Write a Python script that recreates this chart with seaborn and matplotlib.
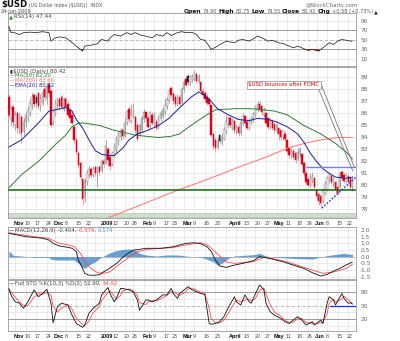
import numpy as np
import pandas as pd
import matplotlib
matplotlib.use("Agg")
import matplotlib.pyplot as plt
import matplotlib.transforms as mtransforms
import seaborn as sns

# ---------------- data ----------------
start_date, end_date = "2008-10-29", "2009-06-24"
holiday_dates = ["2008-11-27", "2008-12-25", "2009-01-01", "2009-01-19",
                 "2009-02-16", "2009-04-10", "2009-05-25"]

open_ = [87.4,85.5,86.5,85.0,86.0,84.9,85.7,84.5,85.3,85.6,86.0,86.7,87.5,87.4,87.7,86.6,86.9,88.0,87.3,88.4,
         87.9,85.3,86.0,86.7,87.2,87.4,86.4,87.2,86.8,86.3,85.9,84.9,83.8,82.7,81.9,80.5,79.0,80.3,80.9,81.4,
         80.9,81.5,81.0,81.5,81.3,82.0,81.9,83.0,82.4,81.8,82.6,83.0,83.6,84.0,84.6,84.1,85.2,86.4,85.4,85.8,
         85.7,85.0,84.3,84.6,85.5,86.1,85.6,85.0,85.9,85.1,85.3,84.9,85.6,85.8,86.1,86.6,87.1,88.1,87.6,87.4,
         86.8,87.4,86.9,88.0,88.9,89.1,88.6,88.8,88.9,89.3,88.7,88.6,87.9,87.7,87.4,87.2,86.7,84.3,83.8,83.2,
         84.2,83.6,83.9,84.5,85.1,85.6,84.8,85.4,84.5,84.9,84.4,85.2,85.8,85.3,84.8,85.3,85.5,85.9,86.3,86.8,
         86.6,85.9,86.0,85.6,84.9,85.4,85.1,84.5,84.8,84.6,84.0,84.3,83.8,83.1,82.5,82.9,82.7,82.2,82.6,82.6,
         81.9,81.0,80.5,80.0,80.4,80.6,79.6,79.3,79.1,78.7,79.4,79.6,80.4,80.8,80.1,80.3,79.9,79.9,81.1,80.9,
         80.4,80.8,80.6,79.90]
high = [87.6,86.7,86.7,86.2,86.2,86.0,85.9,85.6,86.1,86.6,87.2,87.8,87.7,87.6,87.8,87.6,88.1,88.3,88.5,88.6,
        88.0,86.4,87.2,87.4,87.4,87.5,87.4,87.4,87.0,86.5,86.1,85.0,84.0,82.9,82.0,80.6,80.6,81.3,81.6,81.5,
        81.6,81.6,81.6,81.7,82.2,82.3,83.8,83.2,82.6,82.9,83.5,84.1,84.5,84.8,84.8,85.6,86.3,86.6,86.8,86.9,
        85.9,85.1,85.2,85.8,86.4,86.2,85.8,86.2,86.1,86.1,85.5,85.9,86.2,86.5,87.3,87.4,88.0,88.3,87.8,87.5,
        87.6,87.6,88.2,88.8,89.1,89.3,89.2,89.3,89.6,89.4,89.3,88.7,88.1,87.9,87.6,87.4,86.8,84.4,84.0,84.0,
        84.3,84.3,84.9,85.9,85.8,85.8,85.6,85.5,85.1,85.0,85.5,86.0,85.9,85.5,85.6,85.8,86.2,86.7,87.0,87.0,
        86.7,86.5,86.1,85.7,85.6,85.5,85.2,85.2,84.9,84.7,84.6,84.5,83.9,83.2,83.1,83.0,82.8,83.1,83.2,82.7,
        82.0,81.1,80.6,81.0,81.1,80.7,79.7,79.4,79.2,79.8,80.4,80.8,81.1,80.9,80.7,80.4,80.0,81.2,81.3,81.0,
        81.0,80.9,80.7,80.75]
low = [85.7,85.0,84.9,84.6,84.4,84.3,83.5,84.2,84.9,85.3,85.8,86.4,86.5,86.5,86.4,86.2,86.7,87.1,86.8,87.4,
       84.9,85.0,85.8,86.4,86.3,86.4,86.2,86.3,85.7,85.3,85.0,83.5,82.6,81.5,80.5,78.4,78.6,80.0,80.6,80.7,
       80.7,80.8,79.9,80.9,81.1,81.5,81.8,81.6,81.3,81.6,82.4,82.8,83.4,83.8,83.9,84.0,85.0,85.3,85.2,85.6,
       84.4,83.7,84.1,84.4,85.3,85.4,84.7,84.8,85.0,84.9,84.6,84.7,85.4,85.6,85.9,86.4,86.9,87.3,86.8,86.5,
       86.6,86.6,86.8,87.8,88.2,88.4,88.4,88.6,88.7,88.5,88.5,87.7,87.3,87.0,86.7,86.6,84.0,83.0,82.8,83.0,
       83.5,83.4,83.8,84.3,84.9,84.8,84.6,84.4,84.3,84.1,84.2,85.0,85.0,84.6,84.6,85.1,85.3,85.7,86.1,86.2,
       85.9,85.7,85.0,84.7,84.7,84.6,84.4,84.3,83.8,83.8,83.8,83.7,82.7,82.3,82.3,82.2,81.9,82.0,82.4,81.6,
       80.8,80.1,79.9,79.9,80.2,79.7,78.9,78.4,78.2,78.5,79.2,79.5,80.2,80.1,79.9,79.4,79.2,79.8,80.4,80.2,
       80.2,80.1,79.6,79.55]
close = [85.9,86.4,85.3,85.9,84.8,85.8,84.4,85.4,85.9,86.3,86.9,87.4,86.8,86.9,86.6,87.3,87.8,87.4,88.2,87.7,
         85.0,86.2,86.9,87.1,86.6,86.5,87.2,86.5,85.9,85.6,85.2,83.8,82.8,81.7,80.7,78.9,80.4,81.0,81.4,80.9,
         81.4,81.0,81.4,81.1,82.0,81.8,83.3,82.1,81.6,82.7,83.3,83.9,84.2,84.6,84.1,85.2,86.1,85.5,85.9,86.2,
         84.6,83.9,85.0,85.6,86.1,85.6,84.9,86.0,85.2,85.9,84.8,85.7,86.0,86.3,86.7,87.1,87.9,87.5,87.0,86.8,
         87.3,86.8,88.0,88.6,88.4,88.6,89.0,89.1,89.3,88.7,89.1,87.9,87.5,87.2,86.9,86.8,84.2,83.3,83.1,83.7,
         83.7,84.0,84.7,85.4,85.6,85.0,85.4,84.6,84.9,84.4,85.3,85.8,85.2,84.8,85.4,85.6,86.0,86.5,86.8,86.4,
         86.1,86.3,85.2,84.9,85.4,84.8,84.6,85.0,84.3,84.0,84.5,83.9,82.9,82.5,82.9,82.4,82.1,82.8,83.0,81.8,
         81.0,80.3,80.0,80.7,80.8,79.9,79.1,78.7,78.5,79.6,80.1,80.6,80.9,80.3,80.5,79.6,79.4,81.0,80.6,80.4,
         80.8,80.3,79.84,80.42]

ma50_idx = [0,6,14,22,27,30,33,36,43,50,55,60,65,71,77,81,84,88,94,98,107,115,121,126,132,140,148,155,160,163]
ma50_val = [79.8,80.9,82.0,83.4,84.2,84.9,85.2,85.2,85.0,84.6,84.4,84.2,84.1,84.0,84.1,84.3,84.7,85.2,85.9,86.3,
            86.4,86.4,86.3,86.2,85.9,85.0,84.3,83.5,82.8,82.2]
ma200_idx = [47,60,70,80,91,100,110,118,124,132,140,148,156,163]
ma200_val = [77.3,78.2,78.9,79.6,80.3,80.9,81.6,82.1,82.5,83.1,83.5,83.8,84.0,84.0]
ema20_idx = [0,6,14,19,22,27,30,32,35,38,41,44,47,50,54,57,61,66,71,76,80,86,90,93,96,99,104,109,114,118,
             123,127,132,137,140,143,146,149,152,155,160,163]
ema20_val = [83.2,83.8,85.2,86.2,86.3,86.5,86.2,85.5,84.8,83.8,82.9,82.6,82.5,82.5,83.1,83.8,84.3,84.6,85.0,85.6,
             86.3,87.3,87.8,87.5,87.0,86.4,85.9,85.5,85.4,85.6,85.5,85.3,84.9,84.3,83.6,82.7,82.0,81.4,81.0,80.7,
             80.6,80.7]

support_level = 79.6
resistance_level = 81.5
resistance_from = 141
uptrend_x = [148.4, 164.7]
uptrend_y = [78.1, 80.7]
note_text = "$USD bounces after FOMC"
note_pos = (130.5, 88.38)
note_line1_x = [146.8, 163.2]
note_line1_y = [88.1, 81.2]
note_line2_x = [148.2, 164.0]
note_line2_y = [88.4, 81.5]
band_low, band_high = 77.40, 77.68

rsi_idx = [0,1,2,5,7,10,13,16,19,20,22,24,27,30,32,35,36,39,42,44,47,48,50,53,56,58,60,63,65,68,70,73,75,77,80,
           82,84,87,89,91,93,95,96,99,101,103,107,109,111,114,116,118,121,123,125,128,130,133,135,137,140,142,144,
           147,148,150,152,154,156,158,160,162,163]
rsi_val = [78,65,66,61,65,66,65,67,65,47,54,56,54,44,36.5,26,36.5,38.6,41.5,50.6,47,54,61,57.7,65,61,65,59,57.7,54,
           61,57.7,65,59,65,67,65,65.5,61,50.6,49,36.5,29.5,36.5,42,47,43.6,49,50.6,47,52,57.7,52,47,49,43.6,42,36.5,
           33,36.5,31,27.4,29.5,26,29.5,36.5,43.6,40,47,50.6,49,47,47.44]

macd_idx = [0,4,8,12,16,19,21,24,28,30,32,33,35,36,38,40,43,45,47,50,52,54,57,59,62,65,69,72,75,78,81,84,88,91,94,
            96,98,100,103,107,111,116,119,122,125,130,135,140,144,148,151,154,157,160,163]
macd_val = [1.75,1.63,1.5,1.45,1.38,1.25,1.0,0.8,0.7,0.63,0.38,-0.25,-0.88,-1.25,-1.38,-1.4,-1.35,-1.13,-0.95,-0.63,
            -0.38,-0.05,0.3,0.5,0.55,0.63,0.63,0.63,0.68,0.75,0.88,1.0,1.05,0.97,0.75,0.4,-0.25,-0.7,-0.8,-0.63,
            -0.5,-0.3,0.0,-0.08,-0.18,-0.38,-0.63,-0.88,-1.2,-1.45,-1.33,-1.08,-0.88,-0.62,-0.404]
sig_idx = [0,4,12,19,23,28,31,34,36,39,42,45,48,51,54,58,61,66,72,78,84,91,94,97,100,103,107,111,116,121,125,132,
           138,144,149,154,160,163]
sig_val = [1.8,1.7,1.5,1.38,1.05,0.88,0.75,0.25,-0.38,-0.88,-1.2,-1.25,-1.13,-0.75,-0.38,0.05,0.38,0.55,0.63,0.68,
           0.88,1.05,0.9,0.5,0.05,-0.38,-0.5,-0.45,-0.38,-0.05,-0.13,-0.38,-0.7,-1.0,-1.25,-1.15,-0.88,-0.579]
hist_idx = [0,1,2,6,12,19,20,23,28,31,33,35,36,38,41,43,46,48,51,54,57,60,62,65,70,75,80,84,91,93,97,99,101,104,
            107,111,116,119,122,127,132,138,144,147,150,154,159,161,163]
hist_val = [0.4,0.3,0.1,0.05,-0.05,-0.05,-0.2,-0.25,-0.25,-0.25,-0.5,-0.8,-0.88,-0.63,-0.38,-0.13,0.13,0.3,0.45,0.55,
            0.58,0.5,0.25,0.13,0.05,0.13,0.13,0.05,-0.05,-0.13,-0.38,-0.63,-0.5,-0.13,0.05,0.1,0.15,0.25,0.05,-0.05,
            -0.1,-0.15,-0.18,-0.05,0.05,0.15,0.25,0.2,0.174]

sto_idx = [0,1,3,5,7,9,12,14,16,18,20,21,23,25,28,30,32,35,36,38,40,43,44,47,48,50,51,53,54,57,59,61,62,65,66,68,
           70,73,75,77,78,80,81,84,85,87,89,91,93,95,96,98,100,102,104,107,108,110,112,114,115,117,119,121,122,124,
           126,129,131,133,135,137,139,141,144,145,148,149,151,152,154,155,158,159,161,162,163]
sto_k = [87,73,58,55,44,58,84,69,76,85,55,12.6,47,55,51,29,11,2.5,7.5,33,44,55,73,89,76,58,65.5,87,87,84,80,62,40,
         62,62,58,62,73,73,87,76,65.5,76,87,91,84,80,76,74,12,9,11,15,25.6,44,69,58,51,73,58,55,76,94.5,84,55,36.5,
         29,22,14.8,11,18.4,25.6,18.4,7.5,14.8,7.5,18.4,11,55,69,62,51,76,65.5,55,56,52.9]
sto_d = [85,80,68,58,50,50,68,76,74,79,72,48,36,44,52,42,22,8,6,16,34,48,60,78,82,70,64,72,82,86,82,72,56,52,58,
         60,60,67,72,80,80,74,72,80,86,88,83,79,76,45,22,12,12,18,32,55,62,58,62,64,60,65,84,88,75,52,36,27,18,13,
         14,21,22,13,11,10,13,14,32,55,64,58,64,70,63,58,54.92]
sto_line_level, sto_line_from = 49.6, 152.4

tick_dates = ["2008-11-03","2008-11-10","2008-11-17","2008-11-24","2008-12-01","2008-12-08","2008-12-15",
              "2008-12-22","2009-01-02","2009-01-12","2009-01-20","2009-01-26","2009-02-02","2009-02-09",
              "2009-02-17","2009-02-23","2009-03-02","2009-03-09","2009-03-16","2009-03-23","2009-04-01",
              "2009-04-13","2009-04-20","2009-04-27","2009-05-01","2009-05-11","2009-05-18","2009-05-26",
              "2009-06-01","2009-06-08","2009-06-15","2009-06-22"]
tick_labels = ["Nov","10","17","24","Dec","8","15","22","2009","12","20","26","Feb","9","17","23","Mar","9",
               "16","23","April","13","20","27","May","11","18","26","Jun","8","15","22"]

# ---------------- figure ----------------
sns.set_style("white")
plt.rcParams['font.family'] = ['DejaVu Sans']

dates = pd.bdate_range(start_date, end_date)
dates = dates[~dates.isin(pd.to_datetime(holiday_dates))]
n = len(dates)
pos = {d.strftime("%Y-%m-%d"): i for i, d in enumerate(dates)}
tick_idx = [pos[d] for d in tick_dates]
weeks = dates.to_period("W")
week_idx = [i for i in range(1, n) if weeks[i] != weeks[i - 1]]

W_PX, H_PX = 400, 341
fig = plt.figure(figsize=(W_PX / 100, H_PX / 100), dpi=100)
fig.patch.set_facecolor("white")
label_shift = mtransforms.ScaledTranslation(-1.2 / 100, 0, fig.dpi_scale_trans)


def place(top, bot, left=8, right=356):
    return fig.add_axes([left / W_PX, 1 - bot / H_PX, (right - left) / W_PX, (bot - top) / H_PX])


ax_rsi = place(13, 66)
ax_main = place(67, 218)
ax_macd = place(227, 279)
ax_sto = place(280, 331)

GRID = "#e3e3e3"
XL = (-0.4, 164.7)


def style(ax, ylim, yticks, ylabels, grid_lines, xlabels):
    ax.set_xlim(*XL)
    ax.set_ylim(*ylim)
    ax.set_xticks(tick_idx)
    ax.tick_params(axis="x", length=0, pad=5.0)
    if xlabels:
        ax.set_xticklabels(tick_labels)
        for lab in ax.get_xticklabels():
            txt = lab.get_text()
            lab.set_family(["Liberation Sans", "DejaVu Sans"])
            lab.set_horizontalalignment("left")
            lab.set_verticalalignment("baseline")
            lab.set_transform(lab.get_transform() + label_shift)
            if txt.isdigit() and len(txt) <= 2:
                lab.set_fontsize(3.8)
                lab.set_color("#444444")
            else:
                lab.set_fontsize(4.0)
                lab.set_fontweight("bold")
                lab.set_color("#111111")
    else:
        ax.set_xticklabels([])
    ax.set_yticks(yticks)
    ax.set_yticklabels(ylabels)
    ax.yaxis.tick_right()
    ax.tick_params(axis="y", labelsize=4.2, colors="#666666", length=0, pad=3)
    for w in week_idx:
        ax.axvline(w, color=GRID, lw=0.5, zorder=0)
    for g in grid_lines:
        ax.axhline(g, color=GRID, lw=0.5, zorder=0)
    for s in ax.spines.values():
        s.set_color("#9a9a9a")
        s.set_linewidth(0.6)
    ax.set_xlabel("")
    ax.set_ylabel("")


# ---- RSI ----
rsi_ticks = [10, 30, 50, 70, 90]
style(ax_rsi, (-5.5, 106.5), rsi_ticks, [str(t) for t in rsi_ticks], [10, 90], False)
ax_rsi.axhline(70, color="#8a8a8a", lw=0.6, zorder=1)
ax_rsi.axhline(30, color="#8a8a8a", lw=0.6, zorder=1)
ax_rsi.axhline(50, color="#9a9a9a", lw=0.5, ls=(0, (4, 1.5, 1, 1.5)), zorder=1)
rx, ry = np.array(rsi_idx, float), np.array(rsi_val, float)
ax_rsi.fill_between(rx, ry, 70, where=ry > 70, interpolate=True, color="#2e8b2e", lw=0, zorder=2)
ax_rsi.fill_between(rx, ry, 30, where=ry < 30, interpolate=True, color="#b02020", lw=0, zorder=2)
sns.lineplot(x=rx, y=ry, ax=ax_rsi, color="#222222", linewidth=0.55, zorder=3)
ax_rsi.set_xlabel(""); ax_rsi.set_ylabel("")

# ---- main price panel ----
main_ticks = list(range(78, 90))
style(ax_main, (77.29, 89.875), main_ticks, [str(t) for t in main_ticks], main_ticks, True)
ax_main.axhspan(band_low, band_high, facecolor="#cddfca", edgecolor="#9dbd98", lw=0.4, zorder=1)

xi = np.arange(n)
o, h, l, c = (np.array(a, float) for a in (open_, high, low, close))
prev_c = np.r_[o[0], c[:-1]]
down = c < prev_c
filled = c < o
wick_col = np.where(down, "#f2a0a0", "#a8a8a8")
ax_main.vlines(xi, l, h, colors=wick_col, lw=0.8, zorder=3)
face = []
edge = []
for d, f in zip(down, filled):
    if d and f:
        face.append("#e0001a"); edge.append("#e0001a")
    elif d:
        face.append("#ffffff"); edge.append("#e0001a")
    elif f:
        face.append("#222222"); edge.append("#222222")
    else:
        face.append("#f2f2f2"); edge.append("#8a8a8a")
ax_main.bar(xi, np.maximum(np.abs(c - o), 0.07), bottom=np.minimum(o, c), width=0.66,
            color=face, edgecolor=edge, linewidth=0.35, zorder=4)

sns.lineplot(x=ma200_idx, y=ma200_val, ax=ax_main, color="#ff8080", linewidth=0.8, zorder=5)
sns.lineplot(x=ma50_idx, y=ma50_val, ax=ax_main, color="#2f7d2f", linewidth=0.7, zorder=5)
sns.lineplot(x=ema20_idx, y=ema20_val, ax=ax_main, color="#1c1c9c", linewidth=0.7, zorder=6)
ax_main.axhline(support_level, color="#0a6a0a", lw=1.1, zorder=6)
ax_main.plot([resistance_from, XL[1]], [resistance_level, resistance_level], color="#7080ff", lw=1.0, zorder=6)
ax_main.plot(uptrend_x, uptrend_y, color="#2233ee", lw=0.9, ls=(0, (1.5, 1.2)), zorder=6)
ax_main.plot(note_line1_x, note_line1_y, color="#777777", lw=0.6, zorder=7)
ax_main.plot(note_line2_x, note_line2_y, color="#777777", lw=0.6, zorder=7)
ax_main.text(note_pos[0], note_pos[1], note_text, ha="center", va="center", fontsize=3.9, color="#e00000",
             parse_math=False, zorder=8,
             bbox=dict(boxstyle="square,pad=0.35", fc="white", ec="#8a8a8a", lw=0.5))
ax_main.set_xlabel(""); ax_main.set_ylabel("")

# ---- MACD ----
macd_ticks = [-1.5, -1.0, -0.5, 0.0, 0.5, 1.0, 1.5, 2.0]
style(ax_macd, (-1.672, 2.226), macd_ticks, [f"{t:.1f}" for t in macd_ticks], macd_ticks, False)
hx, hy = np.array(hist_idx, float), np.array(hist_val, float)
ax_macd.fill_between(hx, hy, 0, color="#4f8fc8", alpha=0.85, lw=0, zorder=2)
ax_macd.axhline(0, color="#b0b0b0", lw=0.5, zorder=1)
sns.lineplot(x=sig_idx, y=sig_val, ax=ax_macd, color="#ff4a4a", linewidth=0.6, zorder=3)
sns.lineplot(x=macd_idx, y=macd_val, ax=ax_macd, color="#111111", linewidth=0.6, zorder=4)
ax_macd.set_xlabel(""); ax_macd.set_ylabel("")

# ---- Full STO ----
style(ax_sto, (-5.4, 105.4), [20, 50, 80], ["20", "50", "80"], [5, 35, 65, 95], True)
ax_sto.axhline(80, color="#8a8a8a", lw=0.6, zorder=1)
ax_sto.axhline(20, color="#8a8a8a", lw=0.6, zorder=1)
ax_sto.axhline(50, color="#9a9a9a", lw=0.5, ls=(0, (4, 1.5, 1, 1.5)), zorder=1)
sns.lineplot(x=sto_idx, y=sto_d, ax=ax_sto, color="#ff4a4a", linewidth=0.6, zorder=3)
sns.lineplot(x=sto_idx, y=sto_k, ax=ax_sto, color="#111111", linewidth=0.6, zorder=4)
ax_sto.plot([sto_line_from, XL[1]], [sto_line_level, sto_line_level], color="#1030e0", lw=0.9, zorder=5)
ax_sto.set_xlabel(""); ax_sto.set_ylabel("")

# ---------------- texts ----------------
renderer = fig.canvas.get_renderer()


def runs(x_px, y_px, parts, gap=1.4):
    x = x_px
    for s, kw in parts:
        t = fig.text(x / W_PX, 1 - y_px / H_PX, s, ha="left", va="center", parse_math=False, **kw)
        x += t.get_window_extent(renderer).width + gap
    return x


runs(1, 5, [("$USD", dict(fontsize=6.2, weight="bold", color="#111111")),
            ("(US Dollar Index ($USD))  INDX", dict(fontsize=3.4, color="#555555"))])
fig.text(1 / W_PX, 1 - 11.5 / H_PX, "24-Jun-2009", fontsize=3.6, color="#444444", va="center")
fig.text(358 / W_PX, 1 - 5 / H_PX, "@StockCharts.com", fontsize=4.0, color="#666666", ha="right", va="center")
B = dict(fontsize=4.3, weight="bold", color="#111111")
R = dict(fontsize=3.6, color="#555555")
runs(184, 11.5, [("Open", B), ("79.90", R), ("High", B), ("80.75", R), ("Low", B), ("79.55", R),
                 ("Close", B), ("80.42", R), ("Chg", B), ("+0.58 (+0.73%)", R),
                 ("▲", dict(fontsize=3.6, color="#333333"))])

runs(9, 16.5, [("▲", dict(fontsize=3.8, color="#2e8b2e")),
               ("RSI(14) 47.44", dict(fontsize=4.0, color="#444444"))], gap=0.5)

runs(9, 71, [("▮", dict(fontsize=3.6, color="#222222")),
             ("$USD (Daily) 80.42", dict(fontsize=4.0, color="#444444"))], gap=0.8)
runs(9, 75.8, [("—", dict(fontsize=3.8, color="#2f7d2f")),
               ("MA(50) 82.20", dict(fontsize=3.8, color="#2f7d2f"))], gap=0.6)
runs(9, 80.8, [("—", dict(fontsize=3.8, color="#ff7070")),
               ("MA(200) 83.66", dict(fontsize=3.8, color="#ff7070"))], gap=0.6)
runs(9, 85.8, [("—", dict(fontsize=3.8, color="#1c1c9c")),
               ("EMA(20) 80.82", dict(fontsize=3.8, color="#1c1c9c"))], gap=0.6)

runs(9, 230.5, [("—", dict(fontsize=3.9, color="#111111")),
                ("MACD(12,26,9) -0.404,", dict(fontsize=3.9, color="#444444")),
                ("-0.579,", dict(fontsize=3.9, color="#ff4a4a")),
                ("0.174", dict(fontsize=3.9, color="#4f8fc8"))], gap=1.0)
runs(9, 283.5, [("—", dict(fontsize=3.9, color="#111111")),
                ("Full STO %K(10,3) %D(3) 52.90,", dict(fontsize=3.9, color="#444444")),
                ("54.92", dict(fontsize=3.9, color="#ff4a4a"))], gap=1.0)

fig.savefig("out.png", dpi=100, facecolor="white")
